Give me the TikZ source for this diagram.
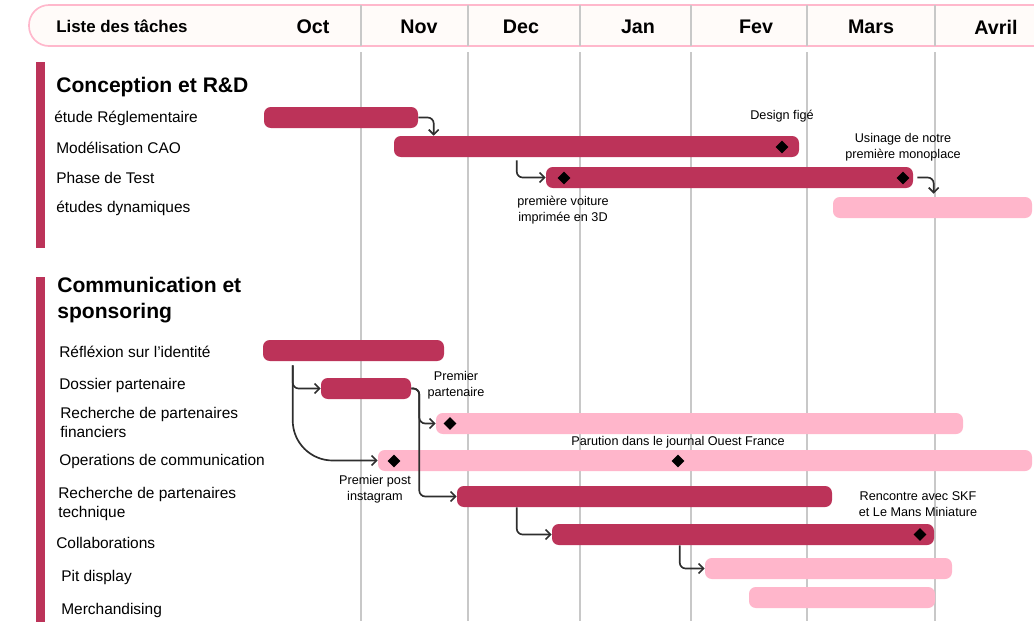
\documentclass[tikz,border=0pt]{standalone}
\usepackage{fontspec}
\setmainfont{Liberation Sans}
\usetikzlibrary{arrows.meta,positioning,shapes.geometric,fit,calc}
\definecolor{bardark}{HTML}{BC3359}
\definecolor{barlight}{HTML}{FFB6CB}
\definecolor{hdrline}{HTML}{FFB8CC}
\definecolor{hdrfill}{HTML}{FFFBF9}
\definecolor{gridgray}{HTML}{C8C8C8}
\definecolor{linkgray}{HTML}{2E2E2E}

\begin{document}
\begin{tikzpicture}[x=0.025cm,y=-0.025cm,
    darkbar/.style={fill=bardark,rounded corners=0.17cm,inner sep=0pt},
    lightbar/.style={fill=barlight,rounded corners=0.17cm,inner sep=0pt},
    ms/.style={diamond,fill=black,inner sep=0pt,minimum size=0.32cm},
    task/.style={anchor=west,align=left,inner sep=0pt,
                 font=\fontsize{11}{13.5}\selectfont},
    note/.style={align=center,inner sep=0pt,
                 font=\fontsize{9}{11.4}\selectfont},
    month/.style={inner sep=0pt,font=\fontsize{14}{16}\selectfont\bfseries},
    sect/.style={anchor=west,align=left,inner sep=0pt,
                 font=\fontsize{15}{18.5}\selectfont\bfseries},
    link/.style={draw=linkgray,line width=1.2pt,rounded corners=0.15cm,
                 -{Straight Barb[length=3.5pt,width=7pt]}},
  ]
    \useasboundingbox (0,0) rectangle (1034,621);

    % en-tete et grille des mois
    \node[draw=hdrline,fill=hdrfill,line width=1.2pt,rounded corners=0.5cm,
          inner sep=0pt,fit={(29,5) (1090,46)}] (hdr) {};
    \foreach \mx in {361,468,580,691,807,935} {
      \draw[gridgray,line width=1pt] (\mx,5) -- (\mx,46);
      \draw[gridgray,line width=1pt] (\mx,52) -- (\mx,621);
    }
    \node[anchor=west,inner sep=0pt,font=\fontsize{12}{14}\selectfont\bfseries]
         (liste) at (56,26) {Liste des tâches};
    \node[month] (oct)  at (313,27) {Oct};
    \node[month] (nov)  at (419,27) {Nov};
    \node[month] (dec)  at (521,27) {Dec};
    \node[month] (jan)  at (638,27) {Jan};
    \node[month] (fev)  at (756,27) {Fev};
    \node[month] (mars) at (871,27) {Mars};
    \node[month] (avr)  at (996,27) {Avril};

    % Conception et R&D
    \fill[bardark] (36,62) rectangle (45,248);
    \node[sect] (rd) at (56,87) {Conception et R\&D};
    \node[task] (t1) at (54,118) {étude Réglementaire};
    \node[task] (t2) at (56,148) {Modélisation CAO};
    \node[task] (t3) at (56,178) {Phase de Test};
    \node[task] (t4) at (56,208) {études dynamiques};

    \node[darkbar,fit={(264,107) (418,128)}]  (b1) {};
    \node[darkbar,fit={(394,136) (799,157)}]  (b2) {};
    \node[darkbar,fit={(546,167) (913,188)}]  (b3) {};
    \node[lightbar,fit={(833,197) (1032,218)}] (b4) {};

    \node[ms] (m1) at (782,147) {};
    \node[ms] (m2) at (564,178) {};
    \node[ms] (m3) at (903,178) {};
    \node[note] (n1) at (782,116) {Design figé};
    \node[note] (n2) at (903,147) {Usinage de notre\\première monoplace};
    \node[note] (n3) at (563,210) {première voiture\\imprimée en 3D};

    \draw[link] (b1.east) -| ($(b2.north west)+(40,0)$);
    \draw[link] ($(b2.south west)+(123,3)$) |- (b3.west);
    \draw[link] ($(b3.east)+(4,0)$) -| ($(b4.north west)+(101,-3)$);

    % Communication et sponsoring
    \fill[bardark] (36,277) rectangle (45,625);
    \node[sect] (com) at (57,300) {Communication et\\sponsoring};
    \node[task] (s1) at (59,352) {Réfléxion sur l’identité};
    \node[task] (s2) at (59,385) {Dossier partenaire};
    \node[task] (s3) at (60,422.5) {Recherche de partenaires\\financiers};
    \node[task] (s4) at (59,461) {Operations de communication};
    \node[task] (s5) at (58,503.5) {Recherche de partenaires\\technique};
    \node[task] (s6) at (56,543) {Collaborations};
    \node[task] (s7) at (61,577) {Pit display};
    \node[task] (s8) at (61,610) {Merchandising};

    \node[darkbar,fit={(263,340) (444,361)}]   (c1) {};
    \node[darkbar,fit={(321,378) (411,399)}]   (c2) {};
    \node[lightbar,fit={(436,413) (963,434)}]  (c3) {};
    \node[lightbar,fit={(378,450) (1032,471)}] (c4) {};
    \node[darkbar,fit={(457,486) (832,507)}]   (c5) {};
    \node[darkbar,fit={(552,524) (934,545)}]   (c6) {};
    \node[lightbar,fit={(705,558) (952,579)}]  (c7) {};
    \node[lightbar,fit={(749,587) (935,608)}]  (c8) {};

    \node[ms] (m4) at (450,423.5) {};
    \node[ms] (m5) at (394,461) {};
    \node[ms] (m6) at (678,461) {};
    \node[ms] (m7) at (920,534.5) {};
    \node[note] (n4) at (456,385) {Premier\\partenaire};
    \node[note] (n5) at (678,442) {Parution dans le journal Ouest France};
    \node[note] (n6) at (375,489) {Premier post\\instagram};
    \node[note] (n7) at (918,504) {Rencontre avec SKF\\et Le Mans Miniature};

    \draw[link] ($(c1.south west)+(30,4)$) |- (c2.west);
    \draw[link,rounded corners=1cm] ($(c1.south west)+(30,4)$) |- (c4.west);
    \draw[link] (c2.east) -- ++(8,0) |- (c3.west);
    \draw[link] (c2.east) -- ++(8,0) |- (c5.west);
    \draw[link] ($(c5.south west)+(60,0)$) |- (c6.west);
    \draw[link] ($(c6.south west)+(128,0)$) |- (c7.west);
  \end{tikzpicture}
\end{document}
